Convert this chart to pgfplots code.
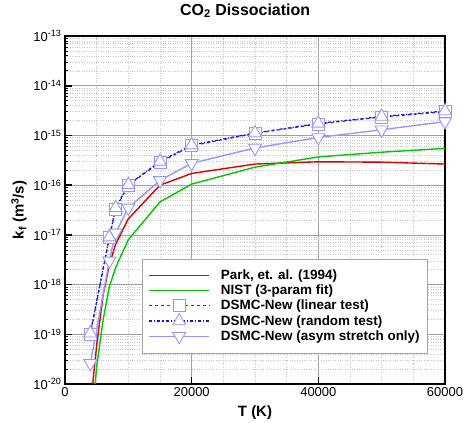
\documentclass[border=0pt]{standalone}
\usepackage{fontspec}
\setmainfont{Liberation Sans}
\usepackage{pgfplots}
\pgfplotsset{compat=1.18}
\definecolor{parkred}{RGB}{220,0,0}
\definecolor{nistgreen}{RGB}{0,200,0}
\definecolor{linblue}{RGB}{40,40,255}
\definecolor{randblue}{RGB}{20,20,220}
\definecolor{lav}{RGB}{150,150,255}
\tikzset{
  parkstyle/.style={color=parkred, draw=parkred, line width=1.4pt},
  niststyle/.style={color=nistgreen, draw=nistgreen, line width=1.4pt},
  linstyle/.style={color=linblue, draw=linblue, line width=1.2pt, dashed, mark=square*, mark size=6bp,
    mark options={solid, draw=lav, fill=white, line width=0.9pt}},
  randstyle/.style={color=randblue, draw=randblue, line width=1.2pt, dash dot, mark=triangle*, mark size=7.5bp,
    mark options={solid, draw=lav, fill=white, line width=0.9pt}},
  asymstyle/.style={color=lav, draw=lav, line width=1.4pt, mark=triangle*, mark size=7.5bp,
    mark options={solid, rotate=180, draw=lav, fill=white, line width=0.9pt}},
}
\begin{document}
\begin{tikzpicture}
\useasboundingbox (-65bp,-39bp) rectangle (399bp,384bp);
\begin{axis}[
  at={(0,0)}, anchor=south west,
  scale only axis, width=380bp, height=348bp,
  ymode=log, xmin=0, xmax=60000, ymin=1e-20, ymax=1e-13,
  axis line style={line width=1.6pt},
  tick align=inside, xtick pos=left, ytick pos=left,
  xtick={0,20000,40000,60000}, xticklabels={0,20000,40000,60000},
  minor xtick={5000,10000,15000,25000,30000,35000,45000,50000,55000},
  ytick={1e-20,1e-19,1e-18,1e-17,1e-16,1e-15,1e-14,1e-13},
  yticklabels={10\textsuperscript{-20},10\textsuperscript{-19},10\textsuperscript{-18},10\textsuperscript{-17},10\textsuperscript{-16},10\textsuperscript{-15},10\textsuperscript{-14},10\textsuperscript{-13}},
  scaled x ticks=false,
  tick label style={font=\fontsize{13}{15}\selectfont},
  major tick style={line width=1.6pt, black},
  major tick length=7bp, minor tick length=3.5bp,
  minor y tick style={black, line width=0.6pt},
  minor x tick style={draw=none},
  grid=both,
  major grid style={gray!75, line width=0.7pt},
  minor grid style={gray!45, dotted, line width=0.5pt},
  xlabel={\bfseries T (K)},
  ylabel={\bfseries k\textsubscript{f} (m\textsuperscript{3}/s)},
  label style={font=\fontsize{15}{17}\selectfont},
  xlabel style={at={(axis description cs:0.5,-0.083)}, anchor=center},
  ylabel style={at={(axis description cs:-0.121,0.5)}, anchor=center},
  title={\bfseries CO\textsubscript{2} Dissociation},
  title style={font=\fontsize{16}{18}\selectfont, at={(axis description cs:0.474,1.055)}, anchor=center},
  legend cell align=left,
  legend style={at={(axis description cs:0.955,0.089)}, anchor=south east,
    draw=gray!70, fill=white,
    font=\bfseries\fontsize{13.5}{14}\selectfont, row sep=0bp, column sep=9bp,
    inner xsep=6bp, inner ysep=9bp},
  legend image code/.code={\draw[mark repeat=2,mark phase=2,#1] plot coordinates {(0bp,0bp) (30bp,0bp) (60bp,0bp)};},
]
\addplot[parkstyle] coordinates {
 (4370,1e-20) (5000,6e-20) (6000,6e-19) (7000,2.5e-18) (8000,6.5e-18) (10000,2.1e-17)
 (15000,1.0e-16) (20000,1.72e-16) (30000,2.66e-16) (40000,2.95e-16) (50000,2.9e-16) (60000,2.66e-16)};
\addlegendentry{Park, et. al. (1994)}
\addplot[niststyle] coordinates {
 (4750,1e-20) (5000,2.2e-20) (6000,1.9e-19) (7000,9e-19) (8000,2.2e-18) (10000,8e-18)
 (15000,4.6e-17) (20000,1.05e-16) (30000,2.3e-16) (40000,3.7e-16) (50000,4.6e-16) (60000,5.5e-16)};
\addlegendentry{NIST (3-param fit)}
\addplot[linstyle] coordinates {
 (4000,1.0e-19) (7000,8.7e-18) (8000,3.3e-17) (10000,1.0e-16) (15000,2.9e-16) (20000,6.2e-16)
 (30000,1.1e-15) (40000,1.7e-15) (50000,2.35e-15) (60000,3.0e-15)};
\addlegendentry{DSMC-New (linear test)}
\addplot[randstyle] coordinates {
 (4000,1.05e-19) (7000,9e-18) (8000,3.5e-17) (10000,1.02e-16) (15000,3.0e-16) (20000,6.4e-16)
 (30000,1.12e-15) (40000,1.75e-15) (50000,2.4e-15) (60000,3.1e-15)};
\addlegendentry{DSMC-New (random test)}
\addplot[asymstyle] coordinates {
 (4000,2.6e-20) (7000,3e-18) (8000,1.1e-17) (10000,3.5e-17) (15000,1.25e-16) (20000,2.75e-16)
 (30000,5.6e-16) (40000,9.1e-16) (50000,1.3e-15) (60000,1.9e-15)};
\addlegendentry{DSMC-New (asym stretch only)}
\end{axis}
\end{tikzpicture}
\end{document}
